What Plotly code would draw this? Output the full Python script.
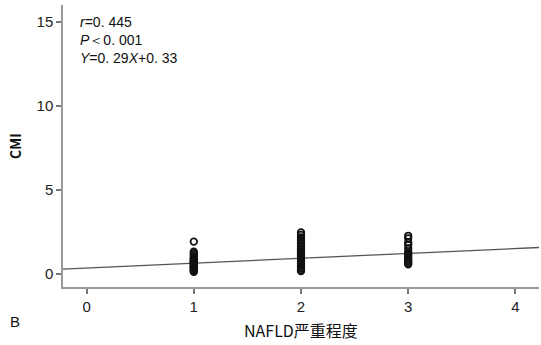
import plotly.graph_objects as go

group_x = [1, 2, 3]
cmi_g1 = [1.9, 1.3, 1.2, 1.1, 1.0, 0.9, 0.85, 0.8, 0.75, 0.7, 0.65, 0.6, 0.55, 0.5, 0.45, 0.4, 0.35, 0.3, 0.25, 0.2, 0.15, 0.1]
cmi_g2 = [2.45, 2.3, 2.15, 2.0, 1.85, 1.7, 1.6, 1.5, 1.4, 1.3, 1.2, 1.1, 1.0, 0.9, 0.8, 0.7, 0.6, 0.5, 0.4, 0.3, 0.2, 0.15]
cmi_g3 = [2.25, 2.1, 1.85, 1.7, 1.5, 1.3, 1.2, 1.1, 1.0, 0.9, 0.8, 0.7, 0.6, 0.55]
slope = 0.29
intercept = 0.33
x_range = [-0.22, 4.22]
y_range = [-0.8, 16.0]
x_ticks = [0, 1, 2, 3, 4]
y_ticks = [0, 5, 10, 15]

xs, ys = [], []
for gx, vals in zip(group_x, [cmi_g1, cmi_g2, cmi_g3]):
    xs += [gx] * len(vals)
    ys += vals

fig = go.Figure()
fig.add_trace(go.Scatter(
    x=x_range, y=[slope * v + intercept for v in x_range], mode="lines",
    line=dict(color="#555555", width=1.3), hoverinfo="skip", showlegend=False))
fig.add_trace(go.Scatter(
    x=xs, y=ys, mode="markers",
    marker=dict(symbol="circle-open", size=6.5, color="#111111", line=dict(width=1.8)),
    showlegend=False))

axis_common = dict(showgrid=False, zeroline=False, showline=True, linecolor="#999999",
                   linewidth=1.5, ticks="outside", ticklen=5, tickwidth=1.5,
                   tickcolor="#777777", automargin=False,
                   tickfont=dict(family="Liberation Sans, Arial", size=15, color="#222222"))

fig.update_xaxes(range=x_range, tickvals=x_ticks, **axis_common)
fig.update_yaxes(range=y_range, tickvals=y_ticks, **axis_common,
                 title=dict(text="<b>CMI</b>", standoff=12,
                            font=dict(family="Noto Sans CJK SC", size=14, color="#111111")))

fig.add_annotation(xref="paper", yref="paper", x=0.5, y=-0.152, xanchor="center", yanchor="middle",
                   showarrow=False, text="NAFLD严重程度",
                   font=dict(family="Noto Sans CJK SC", size=16, color="#111111"))

ann_font = dict(family="Liberation Sans, Arial", size=14, color="#111111")
fig.add_annotation(xref="paper", yref="paper", x=0.032, y=0.975, xanchor="left", yanchor="top",
                   showarrow=False, align="left", font=ann_font,
                   text="<i>r</i>=0. 445<br><i>P</i>＜0. 001<br><i>Y</i>=0. 29<i>X</i>+0. 33")
fig.add_annotation(xref="paper", yref="paper", x=-0.101, y=-0.124, xanchor="center", yanchor="middle",
                   showarrow=False, text="B",
                   font=dict(family="Liberation Sans, Arial", size=15, color="#111111"))

fig.update_layout(width=541, height=345, margin=dict(l=63, r=2, t=5, b=58),
                  plot_bgcolor="white", paper_bgcolor="white")
fig.write_html("out.html", config={"displayModeBar": False},
               post_script="document.body.style.margin='0';")
